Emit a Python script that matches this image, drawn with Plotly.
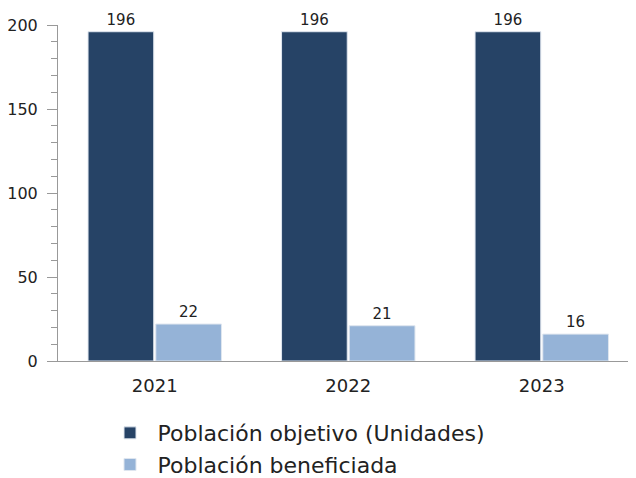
import plotly.graph_objects as go

years = ["2021", "2022", "2023"]
objetivo = [196, 196, 196]
beneficiada = [22, 21, 16]
series_names = ["Población objetivo (Unidades)", "Población beneficiada"]
y_ticks = [0, 50, 100, 150, 200]

fig = go.Figure()
fig.add_bar(x=years, y=objetivo, name=series_names[0], legendgroup="a",
            marker=dict(color="#264366", line=dict(color="#dfe6ef", width=1)),
            text=objetivo, textposition="outside", textfont=dict(size=15, color="#222"), cliponaxis=False)
fig.add_bar(x=years, y=beneficiada, name=series_names[1], legendgroup="b",
            marker=dict(color="#95b3d7", line=dict(color="#dfe6ef", width=1)),
            text=beneficiada, textposition="outside", textfont=dict(size=15, color="#222"), cliponaxis=False)

# page body adds an 8px margin; figure is sized/offset to compensate
fig.update_layout(
    width=628, height=490,
    margin=dict(l=50, r=0, t=17, b=137, autoexpand=False),
    paper_bgcolor="white", plot_bgcolor="white",
    font=dict(family="DejaVu Sans", color="#222", size=12),
    barmode="group", bargap=0.30, bargroupgap=0.03,
    showlegend=True,
    legend=dict(x=0.077, y=-0.152, xanchor="left", yanchor="top", font=dict(size=22, color="#222"),
                tracegroupgap=6, itemwidth=45, traceorder="normal"),
    xaxis=dict(showline=True, linecolor="#999", linewidth=1, ticks="", showgrid=False, automargin=False,
               tickfont=dict(size=18), range=[-0.5, 2.487], ticklabelstandoff=8),
    yaxis=dict(range=[0, 200], tickvals=y_ticks, showline=True, linecolor="#999", linewidth=1,
               ticks="outside", ticklen=10, tickcolor="#999", showgrid=False, zeroline=False, automargin=False,
               tickfont=dict(size=16), ticklabelstandoff=6,
               minor=dict(dtick=10, ticks="outside", ticklen=6, tickcolor="#999", showgrid=False)),
)
fig.write_html("out.html")
